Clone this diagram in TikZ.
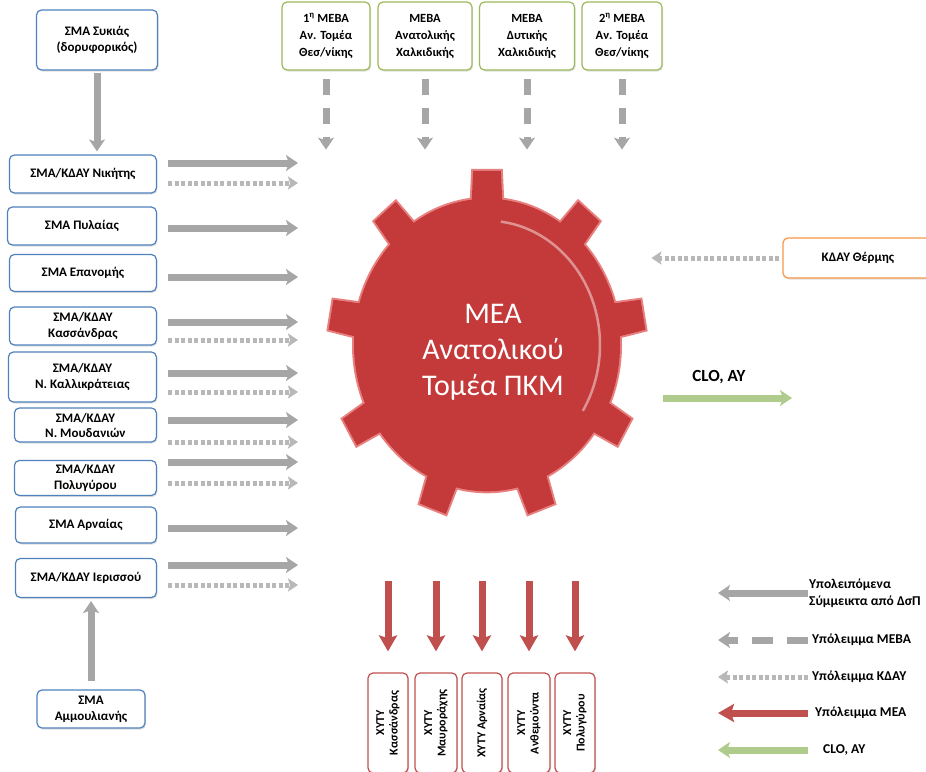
\documentclass[tikz,border=0pt]{standalone}
\usepackage{fontspec}
\setmainfont{Carlito}
\usetikzlibrary{arrows.meta,shadows}

\definecolor{smablue}{RGB}{79,129,189}
\definecolor{mebagreen}{RGB}{155,187,89}
\definecolor{kdayorange}{RGB}{247,150,70}
\definecolor{xytyred}{RGB}{192,80,77}
\definecolor{gearred}{RGB}{196,58,58}
\definecolor{gearedge}{RGB}{232,128,128}
\definecolor{flowgray}{RGB}{166,166,166}
\definecolor{kdaygray}{RGB}{184,184,184}
\definecolor{flowred}{RGB}{192,80,77}
\definecolor{flowgreen}{RGB}{176,204,140}

\begin{document}
\begin{tikzpicture}[x=1pt, y=-1pt,
  panel/.style = {shape=rectangle, rounded corners=5pt, fill=white,
    line width=1.2pt, align=center, inner sep=2pt,
    font=\fontsize{13}{16}\selectfont\bfseries,
    drop shadow={shadow xshift=1pt, shadow yshift=-1.5pt, opacity=0.25}},
  smabox/.style = {panel, draw=smablue, minimum width=147pt, minimum height=38pt},
  leftbox/.style = {smabox, anchor=east},
  mebabox/.style = {panel, draw=mebagreen, minimum height=68pt,
    font=\fontsize{12.5}{17}\selectfont\bfseries},
  kdaybox/.style = {panel, draw=kdayorange, minimum height=40pt},
  xytybox/.style = {panel, draw=xytyred, rotate=90, minimum width=100pt,
    minimum height=40pt, font=\fontsize{12}{13.5}\selectfont\bfseries},
  legtext/.style = {anchor=west, align=left, inner sep=0pt,
    font=\fontsize{13.5}{17}\selectfont\bfseries},
  gearlabel/.style = {text=white, align=center, font=\fontsize{30}{36}\selectfont},
  flowline/.style = {line width=7pt, -{Stealth[length=12pt, width=16pt, inset=3pt]}},
  flowsolid/.style = {flowline, draw=flowgray},
  flowmeba/.style = {flowline, draw=flowgray, dash pattern=on 16pt off 13pt},
  flowkday/.style = {draw=kdaygray, line width=5pt, dash pattern=on 4pt off 2.5pt,
    -{Stealth[length=10pt, width=13pt, inset=2pt]}},
  flowmea/.style = {draw=flowred, line width=7pt,
    -{Stealth[length=16pt, width=18pt, inset=3pt]}},
  flowclo/.style = {flowline, draw=flowgreen}]
  \path[use as bounding box, clip] (0,0) rectangle (926,771);

  % gear
  \begin{scope}[shift={(487,345)}, yscale=1.1]
    \path[fill=gearedge, draw=gearedge, line width=4pt] (0,0) circle (133pt)
      \foreach \a in {90,50,10,-30,-70,-110,-150,170,130} {
        (\a-7.6:120pt) -- (\a-5:159pt) -- (\a+5:159pt) -- (\a+7.6:120pt) -- cycle};
    \path[fill=gearred] (0,0) circle (133pt)
      \foreach \a in {90,50,10,-30,-70,-110,-150,170,130} {
        (\a-7.6:120pt) -- (\a-5:159pt) -- (\a+5:159pt) -- (\a+7.6:120pt) -- cycle};
    \draw[white, opacity=0.45, line width=2.5pt] (83:113pt)
      arc[start angle=83, end angle=-32, radius=113pt];
  \end{scope}
  \node[gearlabel] (mea) at (493,352) {ΜΕΑ\\Ανατολικού\\Τομέα ΠΚΜ};

  % left column
  \node[smabox, minimum width=121pt, minimum height=60pt] (sykias) at (97,40)
    {ΣΜΑ Συκιάς\\(δορυφορικός)};
  \node[leftbox] (nikitis) at (157,174) {ΣΜΑ/ΚΔΑΥ Νικήτης};
  \node[leftbox, minimum width=149pt] (pylaias) at (157,226) {ΣΜΑ Πυλαίας};
  \node[leftbox, minimum height=37pt] (epanomis) at (157,273) {ΣΜΑ Επανομής};
  \node[leftbox] (kassandras) at (157,326) {ΣΜΑ/ΚΔΑΥ\\Κασσάνδρας};
  \node[leftbox, minimum width=148pt, minimum height=50pt] (kallikrateias) at (157,377)
    {ΣΜΑ/ΚΔΑΥ\\Ν. Καλλικράτειας};
  \node[leftbox, minimum width=142pt, minimum height=34pt, font=\fontsize{13}{15}\selectfont\bfseries]
    (moudanion) at (157,425) {ΣΜΑ/ΚΔΑΥ\\Ν. Μουδανιών};
  \node[leftbox, minimum width=142pt, minimum height=35pt] (polygyrou) at (157,478)
    {ΣΜΑ/ΚΔΑΥ\\Πολυγύρου};
  \node[leftbox, minimum width=141pt, minimum height=36pt] (arnaias) at (157,525)
    {ΣΜΑ Αρναίας};
  \node[leftbox, minimum width=141pt, minimum height=39pt] (ierissou) at (157,578)
    {ΣΜΑ/ΚΔΑΥ Ιερισσού};
  \node[smabox, minimum width=108pt] (ammoulianis) at (91,709) {ΣΜΑ\\Αμμουλιανής};

  \draw[flowsolid, shorten <=2pt, shorten >=3pt] (sykias.south) -- (sykias.south |- nikitis.north);
  \draw[flowsolid, shorten <=8pt, shorten >=3pt] (ammoulianis.north) -- (ammoulianis.north |- ierissou.south);

  \draw[flowsolid] ([xshift=11pt,yshift=11pt]nikitis.east) -- ++(130,0);
  \draw[flowkday] ([xshift=11pt,yshift=-9pt]nikitis.east) -- ++(130,0);
  \draw[flowsolid] ([xshift=11pt,yshift=-2pt]pylaias.east) -- ++(130,0);
  \draw[flowsolid] ([xshift=11pt,yshift=-4pt]epanomis.east) -- ++(130,0);
  \draw[flowsolid] ([xshift=11pt,yshift=4pt]kassandras.east) -- ++(130,0);
  \draw[flowkday] ([xshift=11pt,yshift=-14pt]kassandras.east) -- ++(130,0);
  \draw[flowsolid] ([xshift=11pt,yshift=4pt]kallikrateias.east) -- ++(130,0);
  \draw[flowkday] ([xshift=11pt,yshift=-15pt]kallikrateias.east) -- ++(130,0);
  \draw[flowsolid] ([xshift=11pt,yshift=5pt]moudanion.east) -- ++(130,0);
  \draw[flowkday] ([xshift=11pt,yshift=-17pt]moudanion.east) -- ++(130,0);
  \draw[flowsolid] ([xshift=11pt,yshift=16pt]polygyrou.east) -- ++(130,0);
  \draw[flowkday] ([xshift=11pt,yshift=-5pt]polygyrou.east) -- ++(130,0);
  \draw[flowsolid] ([xshift=11pt,yshift=-3pt]arnaias.east) -- ++(130,0);
  \draw[flowsolid] ([xshift=11pt,yshift=13pt]ierissou.east) -- ++(130,0);
  \draw[flowkday] ([xshift=11pt,yshift=-7pt]ierissou.east) -- ++(130,0);

  % top row
  \node[mebabox, minimum width=88pt] (mebaA) at (326,36)
    {1\textsuperscript{η} ΜΕΒΑ\\Αν. Τομέα\\Θεσ/νίκης};
  \node[mebabox, minimum width=94pt] (mebaB) at (425,36) {ΜΕΒΑ\\Ανατολικής\\Χαλκιδικής};
  \node[mebabox, minimum width=95pt] (mebaC) at (527,36) {ΜΕΒΑ\\Δυτικής\\Χαλκιδικής};
  \node[mebabox, minimum width=80pt] (mebaD) at (622,36)
    {2\textsuperscript{η} ΜΕΒΑ\\Αν. Τομέα\\Θεσ/νίκης};
  \draw[flowmeba] ([yshift=-8pt]mebaA.south) -- ++(0,71);
  \draw[flowmeba] ([yshift=-8pt]mebaB.south) -- ++(0,71);
  \draw[flowmeba] ([yshift=-8pt]mebaC.south) -- ++(0,71);
  \draw[flowmeba] ([yshift=-8pt]mebaD.south) -- ++(0,71);

  % right side
  \node[kdaybox, minimum width=150pt] (thermis) at (858,258) {ΚΔΑΥ Θέρμης};
  \draw[flowkday] ([xshift=-3pt]thermis.west) -- ++(-128,0);
  \node[font=\fontsize{17}{19}\selectfont\bfseries] (clolabel) at (719,377) {CLO, ΑΥ};
  \coordinate (cloout) at (663,398);
  \draw[flowclo] (cloout) -- ++(129,0);

  % bottom row
  \node[xytybox] (xykas) at (388,723) {ΧΥΤΥ\\Κασσάνδρας};
  \node[xytybox, minimum height=42pt] (xymav) at (436,723) {ΧΥΤΥ\\Μαυροράχης};
  \node[xytybox] (xyarn) at (482,723) {ΧΥΤΥ Αρναίας};
  \node[xytybox, minimum height=42pt] (xyanth) at (529,723) {ΧΥΤΥ\\Ανθεμούντα};
  \node[xytybox] (xypol) at (575,723) {ΧΥΤΥ\\Πολυγύρου};
  \draw[flowmea] ([yshift=91pt]xykas.east) -- ([yshift=21pt]xykas.east);
  \draw[flowmea] ([yshift=91pt]xymav.east) -- ([yshift=21pt]xymav.east);
  \draw[flowmea] ([yshift=91pt]xyarn.east) -- ([yshift=21pt]xyarn.east);
  \draw[flowmea] ([yshift=91pt]xyanth.east) -- ([yshift=21pt]xyanth.east);
  \draw[flowmea] ([yshift=91pt]xypol.east) -- ([yshift=21pt]xypol.east);

  % legend
  \node[legtext] (legsolid) at (809,593) {Υπολειπόμενα\\Σύμμεικτα από ΔσΠ};
  \node[legtext] (legmeba) at (812,640) {Υπόλειμμα ΜΕΒΑ};
  \node[legtext] (legkday) at (812,677) {Υπόλειμμα ΚΔΑΥ};
  \node[legtext] (legmea) at (815,713) {Υπόλειμμα ΜΕΑ};
  \node[legtext] (legclo) at (823,750) {CLO, ΑΥ};
  \draw[flowsolid] ([xshift=-1pt]legsolid.west) -- ++(-90,0);
  \draw[flowmeba, dash pattern=on 21pt off 14pt] ([xshift=-4pt]legmeba.west) -- ++(-90,0);
  \draw[flowkday] ([xshift=-4pt]legkday.west) -- ++(-90,0);
  \draw[flowmea] ([xshift=-7pt]legmea.west) -- ++(-90,0);
  \draw[flowclo] ([xshift=-15pt]legclo.west) -- ++(-90,0);
\end{tikzpicture}
\end{document}
